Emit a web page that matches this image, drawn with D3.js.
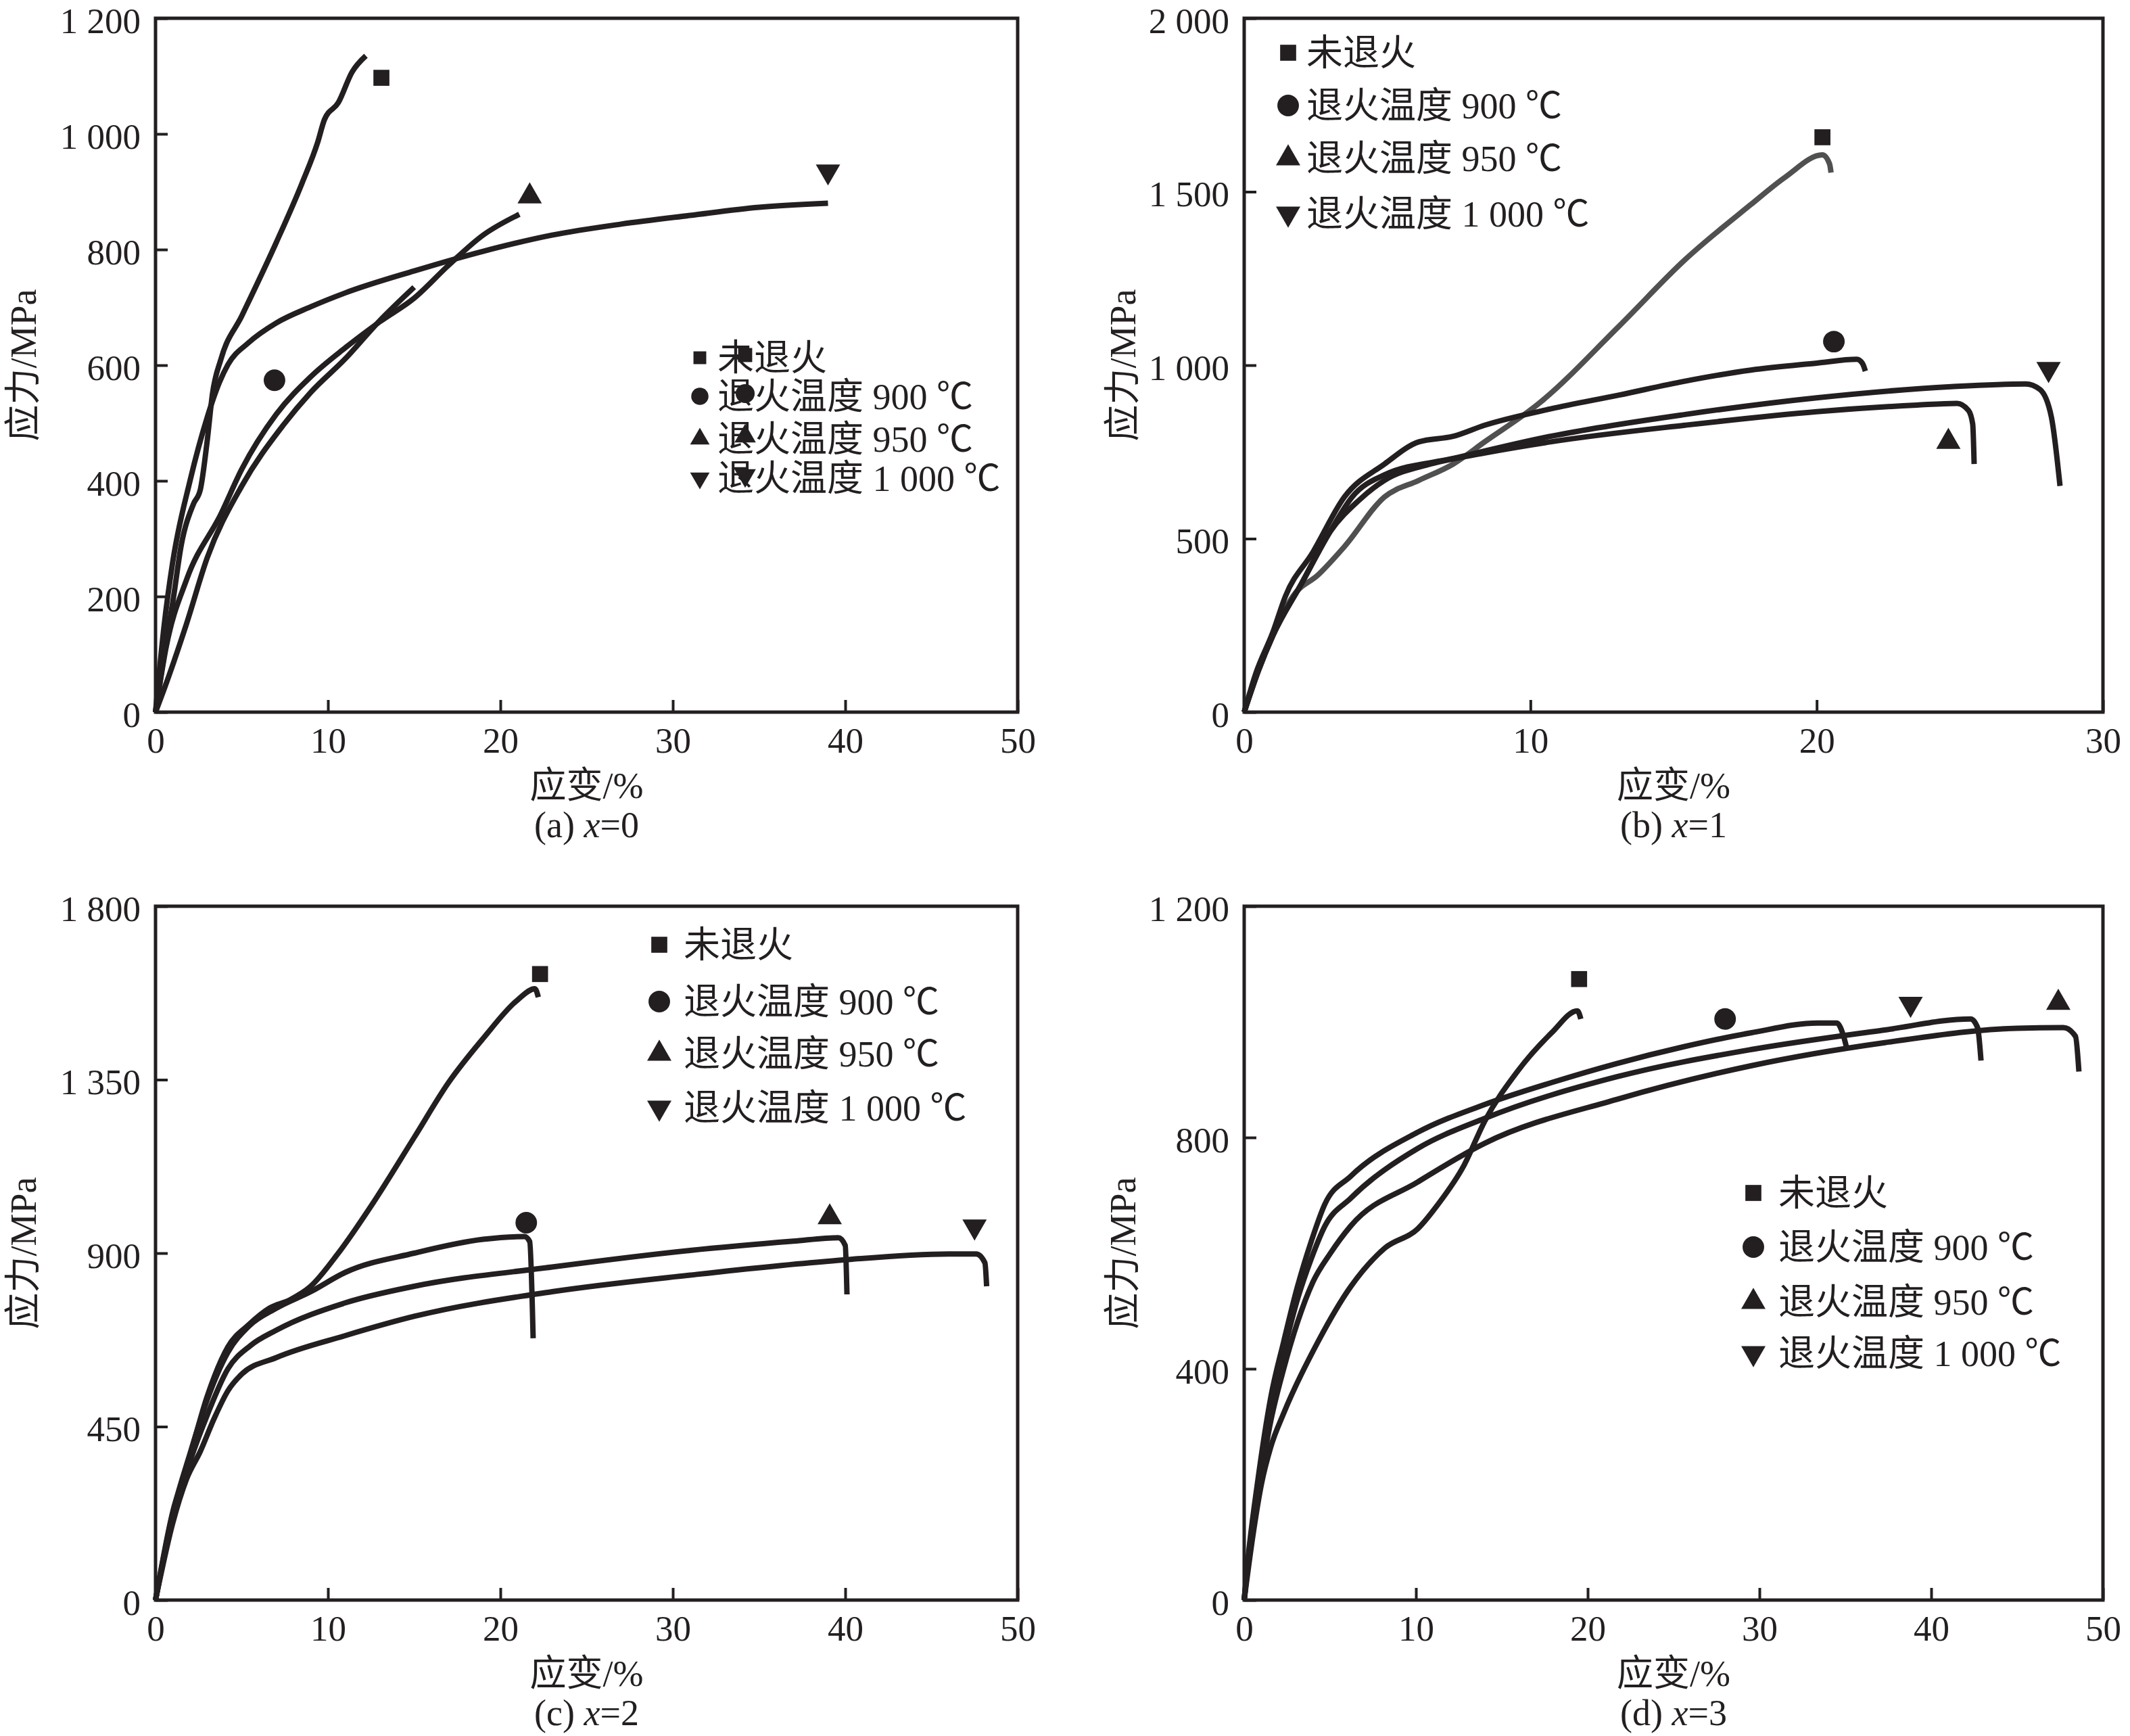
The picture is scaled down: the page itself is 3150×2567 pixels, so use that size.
<!DOCTYPE html>
<html>
<head>
<meta charset="utf-8">
<script src="https://cdn.jsdelivr.net/npm/d3@7"></script>
<style>
  body { margin: 0; background: #fff; }
  svg text { font-family: "Liberation Serif", "Times New Roman", "Noto Sans CJK SC", serif; fill: #231f20; }
</style>
</head>
<body>
<svg id="chart" width="3150" height="2567"></svg>
<script>
  // legend entries, same order in every panel
  const seriesNames = ['未退火', '退火温度 900 ℃', '退火温度 950 ℃', '退火温度 1 000 ℃'];

  // axis ticks
  const xTicks50 = [0, 10, 20, 30, 40, 50];
  const xTicks30 = [0, 10, 20, 30];
  const yTicksA = [0, 200, 400, 600, 800, 1000, 1200];
  const yLabelsA = ['0', '200', '400', '600', '800', '1 000', '1 200'];
  const yTicksB = [0, 500, 1000, 1500, 2000];
  const yLabelsB = ['0', '500', '1 000', '1 500', '2 000'];
  const yTicksC = [0, 450, 900, 1350, 1800];
  const yLabelsC = ['0', '450', '900', '1 350', '1 800'];
  const yTicksD = [0, 400, 800, 1200];
  const yLabelsD = ['0', '400', '800', '1 200'];

  // (a) x=0 : [strain %, stress MPa]
  const a_raw = [[0,0],[0.5,100],[1,190],[1.5,290],[2.2,360],[2.6,385],[3,470],[3.3,550],[3.8,611],[5,685],[7,812],[8.5,915],[9.4,985],[9.8,1025],[10.6,1054],[11.4,1107],[12.2,1135]];
  const a_900 = [[0,0],[0.6,48],[1.8,153],[3,267],[5,391],[7.4,496],[9,553],[11,611],[13,677],[15,735]];
  const a_950 = [[0,0],[0.6,110],[1.8,229],[3.8,343],[5,420],[7,515],[9,580],[11,630],[13,675],[15,716],[17,773],[19,825],[21.1,861]];
  const a_1000 = [[0,0],[0.5,150],[1,260],[2,400],[3,510],[3.7,570],[4.2,601],[5.4,639],[7,673],[9,701],[11,725],[15,763],[19,797],[23,825],[27,844],[31,859],[35,873],[39,880]];
  const a_marks = [[13.1,1097],[6.9,574],[21.7,892],[39,935]];

  // (b) x=1
  const b_raw = [[0,0],[0.4,100],[1,223],[1.7,334],[2.6,397],[3.5,477],[4.9,620],[6.1,668],[7.3,715],[8.4,779],[10.3,890],[13.1,1113],[15.4,1304],[17.7,1463],[18.9,1542],[20.2,1606],[20.45,1580],[20.5,1555]];
  const b_900 = [[0,0],[0.4,110],[1,230],[1.44,334],[2.4,461],[3.5,620],[4.9,715],[6.1,779],[7.3,795],[8.4,827],[10.7,874],[13.1,914],[15.4,954],[17.7,986],[20,1006],[21.4,1017],[21.6,1005],[21.7,983]];
  const b_950 = [[0,0],[0.5,120],[1,220],[2,370],[3,520],[4,610],[4.9,668],[6.5,715],[8.4,747],[10.7,779],[15.4,827],[20,866],[23.5,885],[24.9,890],[25.3,870],[25.45,830],[25.5,715]];
  const b_1000 = [[0,0],[0.5,120],[1,220],[2,370],[3,520],[3.77,620],[4.9,684],[7.3,731],[10.7,795],[15.4,858],[20,906],[24.7,938],[27.3,946],[27.8,930],[28.2,850],[28.5,652]];
  const b_marks = [[20.2,1657],[20.6,1068],[24.6,779],[28.1,989]];

  // (c) x=2
  const c_raw = [[0,0],[1,229],[1.8,343],[3,529],[4.2,657],[5.4,714],[6.6,757],[7.8,779],[9,814],[10.6,900],[12.6,1029],[15,1200],[17,1343],[19,1457],[21,1557],[22,1586],[22.2,1564]];
  const c_900 = [[0,0],[1,225],[2,380],[3,520],[4.2,643],[5.4,710],[7,757],[9,800],[11,850],[15,900],[19,936],[21.4,943],[21.7,930],[21.9,679]];
  const c_950 = [[0,0],[1,215],[2,360],[3,480],[4.2,600],[5.5,660],[7,700],[11,771],[15,814],[23,864],[31,907],[37,931],[39.6,940],[40,920],[40.1,793]];
  const c_1000 = [[0,0],[1,200],[1.8,314],[2.6,386],[3.4,471],[4.2,543],[5,586],[7,629],[11,686],[15,736],[23,800],[31,843],[39,879],[46,898],[47.6,898],[48.1,875],[48.2,814]];
  const c_marks = [[22.3,1624],[21.5,979],[39.1,993],[47.5,969]];

  // (d) x=3
  const d_raw = [[0,0],[0.5,110],[1,200],[1.55,265],[2.3,323],[4.3,447],[6.2,542],[8.2,609],[10.1,642],[11.3,685],[12.8,752],[14,828],[15.9,914],[17.9,981],[19.4,1019],[19.6,1005]];
  const d_900 = [[0,0],[0.2,65],[0.8,208],[1.55,351],[2.3,447],[3.1,542],[3.9,620],[4.7,685],[6.2,733],[10.1,809],[14,857],[17.9,895],[21.7,928],[25.6,957],[29.5,981],[33.4,998],[34.5,998],[34.9,975],[35.1,952]];
  const d_950 = [[0,0],[0.2,55],[0.8,180],[1.55,310],[2.3,400],[3.1,480],[4,550],[5,599],[6.2,647],[10.1,723],[14,790],[21.7,866],[29.5,924],[37.3,964],[45,989],[47.7,990],[48.4,975],[48.6,914]];
  const d_1000 = [[0,0],[0.2,60],[0.8,200],[1.55,340],[2.3,430],[3.1,520],[3.9,590],[4.7,647],[6.2,695],[10.1,781],[14,833],[21.7,905],[29.5,952],[37.3,986],[42.3,1005],[42.7,990],[42.9,933]];
  const d_marks = [[19.5,1074],[28,1005],[47.4,1033],[38.8,1031]];

  const ink = '#231f20';
  const symbols = [
    {type: d3.symbolSquare, size: 560, rot: 0},
    {type: d3.symbolCircle, size: 800, rot: 0},
    {type: d3.symbolTriangle, size: 560, rot: 0},
    {type: d3.symbolTriangle, size: 560, rot: 180}
  ];

  const panels = [
    {tag: 'a', sub: '0', left: 230, right: 1505, top: 27, bottom: 1053, xMax: 50, yMax: 1200,
     xTicks: xTicks50, yTicks: yTicksA, yLabels: yLabelsA, yTitleX: 34,
     series: [a_raw, a_900, a_950, a_1000], marks: a_marks, colors: [ink, ink, ink, ink],
     legend: {mx: 1035, tx: 1061, ys: [529, 586, 649, 707], scale: 0.8, echoX: 1102}},
    {tag: 'b', sub: '1', left: 1840, right: 3110, top: 27, bottom: 1053, xMax: 30, yMax: 2000,
     xTicks: xTicks30, yTicks: yTicksB, yLabels: yLabelsB, yTitleX: 1660,
     series: [b_raw, b_900, b_950, b_1000], marks: b_marks, colors: ['#505050', ink, ink, ink],
     legend: {mx: 1905, tx: 1932, ys: [78, 156, 234, 316], scale: 1}},
    {tag: 'c', sub: '2', left: 230, right: 1505, top: 1340, bottom: 2366, xMax: 50, yMax: 1800,
     xTicks: xTicks50, yTicks: yTicksC, yLabels: yLabelsC, yTitleX: 34,
     series: [c_raw, c_900, c_950, c_1000], marks: c_marks, colors: [ink, ink, ink, ink],
     legend: {mx: 975, tx: 1011, ys: [1397, 1481, 1558, 1638], scale: 1}},
    {tag: 'd', sub: '3', left: 1840, right: 3110, top: 1340, bottom: 2366, xMax: 50, yMax: 1200,
     xTicks: xTicks50, yTicks: yTicksD, yLabels: yLabelsD, yTitleX: 1660,
     series: [d_raw, d_900, d_950, d_1000], marks: d_marks, colors: [ink, ink, ink, ink],
     legend: {mx: 2593, tx: 2630, ys: [1764, 1844, 1925, 2001], scale: 1}}
  ];

  const svg = d3.select('#chart');
  const symbolPath = (s, k) => d3.symbol().type(s.type).size(s.size * k * k)();

  panels.forEach(p => {
    const x = d3.scaleLinear().domain([0, p.xMax]).range([p.left, p.right]);
    const y = d3.scaleLinear().domain([0, p.yMax]).range([p.bottom, p.top]);
    const g = svg.append('g').attr('class', 'panel-' + p.tag);

    // axes with inward ticks
    const xAxis = g.append('g')
      .attr('transform', `translate(0,${p.bottom})`)
      .call(d3.axisBottom(x).tickValues(p.xTicks).tickSize(-18).tickPadding(22).tickFormat(d => d));
    const yAxis = g.append('g')
      .attr('transform', `translate(${p.left},0)`)
      .call(d3.axisLeft(y).tickValues(p.yTicks).tickSize(-18).tickPadding(22)
        .tickFormat((d, i) => p.yLabels[i]));
    [xAxis, yAxis].forEach(ax => {
      ax.attr('font-size', 53).attr('font-family', null).attr('color', ink);
      ax.select('.domain').remove();
      ax.selectAll('.tick line').attr('stroke-width', 4);
    });
    yAxis.selectAll('.tick text').attr('dy', '0.4em');

    // curves
    const line = d3.line().x(d => x(d[0])).y(d => y(d[1])).curve(d3.curveMonotoneX);
    g.selectAll('path.curve').data(p.series).join('path')
      .attr('class', 'curve')
      .attr('d', line)
      .attr('fill', 'none')
      .attr('stroke', (d, i) => p.colors[i])
      .attr('stroke-width', 8)
      .attr('stroke-linejoin', 'round');

    // end markers
    g.selectAll('path.mark').data(p.marks).join('path')
      .attr('class', 'mark')
      .attr('d', (d, i) => symbolPath(symbols[i], 1))
      .attr('transform', (d, i) => `translate(${x(d[0])},${y(d[1])}) rotate(${symbols[i].rot})`)
      .attr('fill', ink);

    // frame
    g.append('rect')
      .attr('x', p.left).attr('y', p.top)
      .attr('width', p.right - p.left).attr('height', p.bottom - p.top)
      .attr('fill', 'none').attr('stroke', ink).attr('stroke-width', 5);

    // legend
    const lg = p.legend;
    seriesNames.forEach((name, i) => {
      g.append('path')
        .attr('d', symbolPath(symbols[i], lg.scale))
        .attr('transform', `translate(${lg.mx},${lg.ys[i]}) rotate(${symbols[i].rot})`)
        .attr('fill', ink);
      if (lg.echoX) {
        g.append('path')
          .attr('d', symbolPath(symbols[i], lg.scale * 1.1))
          .attr('transform', `translate(${lg.echoX},${lg.ys[i] - 4}) rotate(${symbols[i].rot})`)
          .attr('fill', ink);
      }
      g.append('text')
        .attr('x', lg.tx).attr('y', lg.ys[i])
        .attr('dy', '0.36em')
        .attr('font-size', 54)
        .text(name);
    });

    // axis titles
    const cx = (p.left + p.right) / 2;
    g.append('text')
      .attr('x', cx).attr('y', p.bottom + 127)
      .attr('text-anchor', 'middle').attr('font-size', 54)
      .text('应变/%');
    const cap = g.append('text')
      .attr('x', cx).attr('y', p.bottom + 185)
      .attr('text-anchor', 'middle').attr('font-size', 54);
    cap.append('tspan').text(`(${p.tag}) `);
    cap.append('tspan').attr('font-style', 'italic').text('x');
    cap.append('tspan').text('=' + p.sub);
    g.append('text')
      .attr('transform', `translate(${p.yTitleX},${(p.top + p.bottom) / 2}) rotate(-90)`)
      .attr('text-anchor', 'middle').attr('dy', '0.36em').attr('font-size', 54)
      .text('应力/MPa');
  });
</script>
</body>
</html>
